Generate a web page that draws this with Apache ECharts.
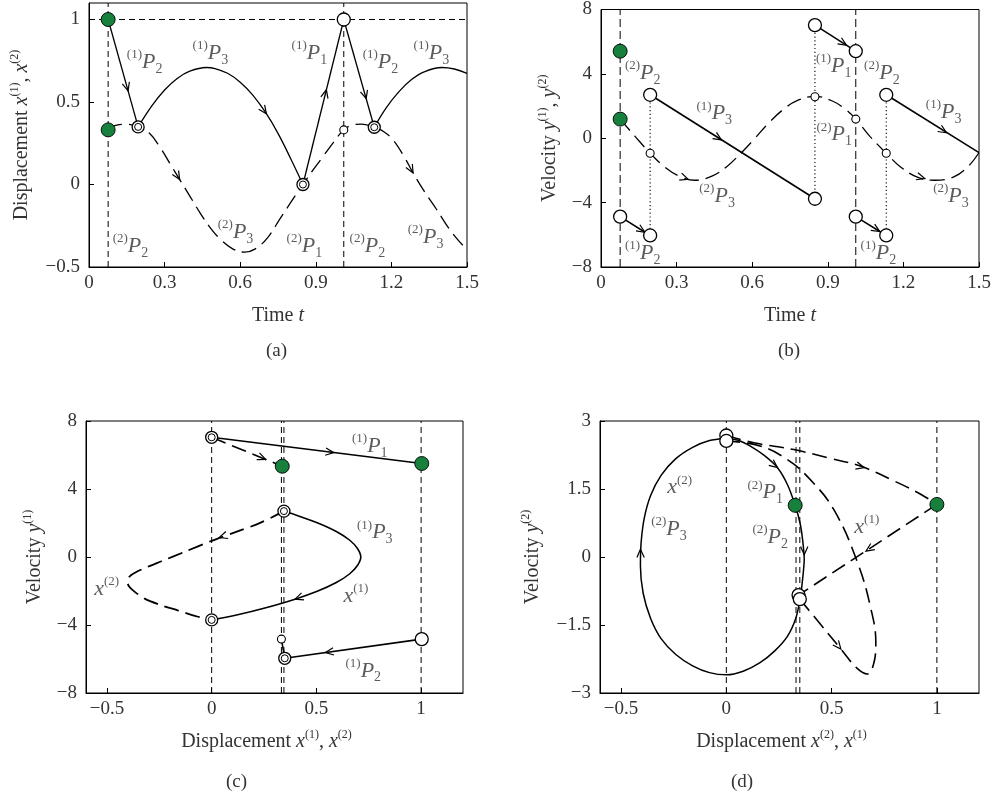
<!DOCTYPE html>
<html>
<head>
<meta charset="utf-8">
<script src="https://cdn.jsdelivr.net/npm/echarts@6/dist/echarts.min.js"></script>
<style>
  html, body { margin: 0; padding: 0; background: #fff; }
  #main { width: 995px; height: 802px; }
</style>
</head>
<body>
<div id="main"></div>
<script>
// ---------- Panel (a): displacement vs time ----------
const impactTimes = [0.076, 1.011];
const wallLevel = [1];
const x1DropA = [[0.076, 1], [0.195, 0.349]];
const x1FlightA = [[0.195, 0.349], [0.25, 0.478], [0.30, 0.573], [0.35, 0.643], [0.40, 0.687],
  [0.466, 0.709], [0.50, 0.703], [0.55, 0.674], [0.60, 0.620], [0.65, 0.542], [0.70, 0.438],
  [0.75, 0.310], [0.80, 0.158], [0.849, 0]];
const x1RiseA = [[0.849, 0], [1.011, 1]];
const x1DropB = [[1.011, 1], [1.132, 0.347]];
const x1FlightB = [[1.132, 0.347], [1.18, 0.466], [1.23, 0.563], [1.28, 0.636], [1.33, 0.683],
  [1.40, 0.709], [1.45, 0.70], [1.5, 0.673]];
const x2Path = [[0.076, 0.331], [0.11, 0.36], [0.15, 0.365], [0.195, 0.349], [0.24, 0.31], [0.28, 0.23],
  [0.32, 0.13], [0.36, 0.03], [0.40, -0.07], [0.44, -0.17], [0.48, -0.26], [0.52, -0.33], [0.57, -0.39],
  [0.618, -0.41], [0.66, -0.39], [0.71, -0.32], [0.757, -0.21], [0.80, -0.11], [0.849, 0], [0.89, 0.09],
  [0.929, 0.17], [0.968, 0.251], [1.011, 0.331], [1.045, 0.36], [1.081, 0.366], [1.132, 0.347],
  [1.17, 0.32], [1.206, 0.271], [1.25, 0.17], [1.286, 0.07], [1.33, -0.04], [1.379, -0.15],
  [1.43, -0.27], [1.49, -0.38], [1.5, -0.39]];
const greenA = [[0.076, 1], [0.076, 0.331]];
const openA = [[1.011, 1]];
const smallA = [[1.011, 0.331]];
const doubleA = [[0.195, 0.349], [0.849, 0], [1.132, 0.347]];
const arrowsA = [[0.076, 1, 0.155, 0.568], [0.66, 0.523, 0.704, 0.429], [0.849, 0, 0.942, 0.574],
  [1.011, 1, 1.10, 0.52], [0.32, 0.13, 0.36, 0.03], [1.25, 0.17, 1.286, 0.07]];
const labelsA = [[0.150, 0.74, 'P', 1, 2], [0.411, 0.795, 'P', 1, 3], [0.804, 0.795, 'P', 1, 1],
  [1.086, 0.74, 'P', 1, 2], [1.288, 0.795, 'P', 1, 3], [0.511, -0.289, 'P', 2, 3],
  [0.094, -0.373, 'P', 2, 2], [0.784, -0.373, 'P', 2, 1], [1.034, -0.373, 'P', 2, 2],
  [1.265, -0.319, 'P', 2, 3]];

// ---------- Panel (b): velocity vs time ----------
const y1Seg = [
  [[0.076, -4.87], [0.195, -6.04]],
  [[0.195, 2.70], [0.849, -3.76]],
  [[0.849, 7.03], [1.011, 5.41]],
  [[1.011, -4.87], [1.132, -6.04]],
  [[1.132, 2.70], [1.5, -0.89]]
];
const jumpLinks = [[[0.195, 2.70], [0.195, -6.04]], [[0.849, 7.03], [0.849, -3.76]], [[1.132, 2.70], [1.132, -6.04]]];
const y2Path = [[0.076, 1.19], [0.135, 0.12], [0.195, -0.93], [0.25, -1.75], [0.31, -2.35], [0.373, -2.61],
  [0.44, -2.35], [0.50, -1.75], [0.56, -0.85], [0.611, 0.0], [0.66, 0.85], [0.72, 1.75], [0.78, 2.35],
  [0.849, 2.6], [0.92, 2.3], [0.97, 1.8], [1.011, 1.19], [1.067, 0.12], [1.132, -0.93], [1.19, -1.8],
  [1.26, -2.45], [1.325, -2.61], [1.40, -2.4], [1.46, -1.7], [1.5, -0.89]];
const greenB = [[0.076, 5.41], [0.076, 1.19]];
const openB = [[0.076, -4.87], [0.195, -6.04], [0.195, 2.70], [0.849, -3.76], [0.849, 7.03],
  [1.011, 5.41], [1.011, -4.87], [1.132, -6.04], [1.132, 2.70]];
const smallB = [[0.195, -0.93], [0.849, 2.58], [1.011, 1.19], [1.132, -0.93]];
const arrowsB = [[0.076, -4.87, 0.174, -5.84], [0.195, 2.70, 0.478, -0.10], [0.849, 7.03, 0.974, 5.78],
  [1.011, -4.87, 1.106, -5.80], [1.132, 2.70, 1.371, 0.34], [0.30, -2.30, 0.346, -2.55],
  [1.24, -2.30, 1.285, -2.50]];
const labelsB = [[0.095, 4.06, 'P', 2, 2], [0.379, 1.53, 'P', 1, 3], [0.39, -3.62, 'P', 2, 3],
  [0.095, -7.15, 'P', 1, 2], [0.853, 4.46, 'P', 1, 1], [0.855, 0.22, 'P', 2, 1],
  [1.044, 4.06, 'P', 2, 2], [1.289, 1.64, 'P', 1, 3], [1.318, -3.62, 'P', 2, 3],
  [1.03, -7.15, 'P', 1, 2]];

// ---------- Panel (c): phase plane y(1) ----------
const levelsC = [0, 0.333, 0.345, 1];
const cX1P1 = [[0, 7.04], [1.003, 5.5]];
const cX2P1 = [[0, 7.04], [0.337, 5.34]];
const cX1P3 = [[0.345, 2.70], [0.418, 2.4], [0.507, 2.0], [0.595, 1.5], [0.658, 1.0], [0.696, 0.5],
  [0.712, 0], [0.696, -0.5], [0.658, -1.0], [0.595, -1.5], [0.507, -2.0], [0.398, -2.48],
  [0.254, -3.0], [0.124, -3.4], [0, -3.70]];
const cX2P3 = [[0.345, 2.70], [0.234, 2.02], [0.107, 1.43], [0, 0.95], [-0.13, 0.3], [-0.24, -0.25],
  [-0.31, -0.6], [-0.36, -0.88], [-0.39, -1.12], [-0.403, -1.41], [-0.395, -1.72], [-0.37, -2.02],
  [-0.32, -2.45], [-0.25, -2.8], [-0.16, -3.15], [-0.07, -3.5], [0, -3.70]];
const cX1P2 = [[1.003, -4.83], [0.349, -5.96]];
const cX2P2 = [[0.333, -4.83], [0.349, -5.96]];
const greenC = [[0.337, 5.34], [1.003, 5.5]];
const doubleC = [[0, 7.04], [0.345, 2.70], [0, -3.70], [0.349, -5.96]];
const openC = [[1.003, -4.83]];
const smallC = [[0.333, -4.83]];
const arrowsC = [[0, 7.04, 0.258, 5.74], [0, 7.04, 0.583, 6.14], [0.107, 1.43, 0.036, 1.14],
  [0.507, -2.0, 0.398, -2.48], [1.003, -4.83, 0.543, -5.62]];
const labelsC = [[0.67, 6.51, 'P', 1, 1], [0.694, 1.43, 'P', 1, 3], [0.629, -2.29, 'x', 1],
  [-0.561, -1.9, 'x', 2], [0.639, -6.69, 'P', 1, 2]];

// ---------- Panel (d): phase plane y(2) ----------
const levelsD = [0, 0.331, 0.349, 1];
const dX2Orbit = [[0, 2.62], [0.06, 2.57], [0.116, 2.44], [0.18, 2.24], [0.243, 1.97], [0.29, 1.6],
  [0.327, 1.14], [0.35, 0.75], [0.362, 0.39], [0.37, -0.05], [0.362, -0.5], [0.35, -0.93],
  [0.33, -1.35], [0.29, -1.75], [0.23, -2.07], [0.16, -2.33], [0.08, -2.52], [0, -2.6],
  [-0.08, -2.55], [-0.16, -2.4], [-0.24, -2.15], [-0.31, -1.8], [-0.36, -1.35], [-0.395, -0.8],
  [-0.408, -0.2], [-0.405, 0.3], [-0.39, 0.85], [-0.36, 1.35], [-0.31, 1.8], [-0.24, 2.17],
  [-0.16, 2.42], [-0.08, 2.57], [0, 2.62]];
const dX1P1 = [[0, 2.68], [0.13, 2.52], [0.32, 2.37], [0.48, 2.19], [0.64, 2.0], [0.80, 1.67],
  [0.925, 1.38], [1.0, 1.16]];
const dX1P2 = [[1.0, 1.16], [0.343, -0.84]];
const dX1P3 = [[0.349, -0.93], [0.45, -1.5], [0.544, -2.03], [0.62, -2.45], [0.67, -2.58],
  [0.70, -2.35], [0.71, -1.89], [0.687, -1.15], [0.623, -0.12], [0.51, 1.05], [0.39, 1.75],
  [0.29, 2.15], [0.16, 2.45], [0, 2.56]];
const greenD = [[0.327, 1.14], [1.0, 1.16]];
const openD = [[0, 2.68], [0, 2.56], [0.343, -0.84], [0.349, -0.93]];
const arrowsD = [[-0.405, -0.4, -0.408, 0.17], [0.116, 2.44, 0.243, 1.97], [0.37, 0.5, 0.37, 0.05],
  [0.48, 2.19, 0.655, 1.97], [1.0, 1.16, 0.663, 0.13], [0.349, -0.93, 0.544, -2.03]];
const labelsD = [[-0.281, 1.53, 'x', 2], [-0.357, 0.61, 'P', 2, 3], [0.1, 1.42, 'P', 2, 1],
  [0.124, 0.43, 'P', 2, 2], [0.608, 0.65, 'x', 1]];

// ---------- axis ticks ----------
const ticksTime = [0, 0.3, 0.6, 0.9, 1.2, 1.5];
const ticksDisp = [-0.5, 0, 0.5, 1];
const ticksVel = [-8, -4, 0, 4, 8];
const ticksVel2 = [-3, -1.5, 0, 1.5, 3];
const ticksPhaseX = [-0.5, 0, 0.5, 1];

// ---------- styling ----------
const FONT = '"Liberation Serif", "DejaVu Serif", serif';
const INK = '#000';
const TXT = '#333';
const GREEN = '#17803d';
const LONG_DASH = [15, 7];
const REF_DASH = [6, 4];

const richMath = {
  s: { fontSize: 13, fontFamily: FONT, color: TXT, lineHeight: 12, verticalAlign: 'top' },
  p: { fontSize: 22, fontFamily: FONT, fontStyle: 'italic', color: TXT, lineHeight: 28 },
  b: { fontSize: 14, fontFamily: FONT, color: TXT, lineHeight: 12, verticalAlign: 'bottom' }
};
const richTitle = {
  t: { fontSize: 20, fontFamily: FONT, color: TXT, lineHeight: 26 },
  i: { fontSize: 20, fontFamily: FONT, fontStyle: 'italic', color: TXT, lineHeight: 26 },
  s: { fontSize: 12, fontFamily: FONT, color: TXT, lineHeight: 12, verticalAlign: 'top' }
};

function mathText(row) {
  if (row[2] === 'P') return '{s|(' + row[3] + ')}{p|P}{b|' + row[4] + '}';
  return '{p|x}{s|(' + row[3] + ')}';
}
const minus = v => String(v).replace('-', '\u2212');

function xAxisCfg(g, min, max, ticks, name, gap, shift) {
  return {
    gridIndex: g, type: 'value', min: min, max: max,
    axisLine: { onZero: false, lineStyle: { color: INK, width: 1 } },
    axisTick: { inside: true, length: 5, lineStyle: { color: INK }, customValues: ticks },
    axisLabel: { customValues: ticks, formatter: minus, color: TXT, fontFamily: FONT, fontSize: 19, margin: 7 },
    splitLine: { show: false },
    name: name, nameLocation: 'middle', nameGap: gap,
    nameTextStyle: { rich: richTitle, padding: [0, shift || 0, 0, 0] }
  };
}
function yAxisCfg(g, min, max, ticks, name, gap) {
  return {
    gridIndex: g, type: 'value', min: min, max: max,
    axisLine: { onZero: false, lineStyle: { color: INK, width: 1 } },
    axisTick: { inside: true, length: 5, lineStyle: { color: INK }, customValues: ticks },
    axisLabel: { customValues: ticks, formatter: minus, color: TXT, fontFamily: FONT, fontSize: 19, margin: 9 },
    splitLine: { show: false },
    name: name, nameLocation: 'middle', nameGap: gap, nameRotate: 90,
    nameTextStyle: { rich: richTitle }
  };
}

const series = [];
function curve(g, data, opt) {
  opt = opt || {};
  series.push({
    type: 'line', xAxisIndex: g, yAxisIndex: g, data: data, symbol: 'none', showSymbol: false,
    smooth: opt.smooth ? (opt.smooth === true ? 0.4 : opt.smooth) : false, silent: true, z: opt.z || 3,
    lineStyle: { color: INK, width: opt.w || 1.3, type: opt.dash || 'solid' }
  });
}
function vRefs(g, values, yRange, dash) {
  values.forEach(v => curve(g, [[v, yRange[0]], [v, yRange[1]]], { dash: dash || REF_DASH, w: 1, z: 1 }));
}
function hRefs(g, values, xRange) {
  values.forEach(v => curve(g, [[xRange[0], v], [xRange[1], v]], { dash: REF_DASH, w: 1, z: 1 }));
}
function dots(g, data, kind) {
  const styles = {
    green: { size: 14, fill: GREEN, bw: 0.9 },
    open: { size: 13, fill: '#fff', bw: 1.3 },
    small: { size: 8, fill: '#fff', bw: 1.1 },
    outer: { size: 12, fill: '#fff', bw: 1.3 },
    inner: { size: 7, fill: '#fff', bw: 1.0 }
  };
  const s = styles[kind];
  series.push({
    type: 'scatter', xAxisIndex: g, yAxisIndex: g, data: data, symbol: 'circle', symbolSize: s.size,
    silent: true, z: kind === 'inner' ? 7 : 6,
    itemStyle: { color: s.fill, borderColor: INK, borderWidth: s.bw, opacity: 1 }
  });
}
function doubles(g, data) { dots(g, data, 'outer'); dots(g, data, 'inner'); }
function arrows(g, data) {
  series.push({
    type: 'custom', xAxisIndex: g, yAxisIndex: g, data: data, silent: true, z: 5,
    encode: { x: 2, y: 3 },
    renderItem: function (params, api) {
      const a = api.coord([api.value(0), api.value(1)]);
      const b = api.coord([api.value(2), api.value(3)]);
      const ang = Math.atan2(b[1] - a[1], b[0] - a[0]);
      const L = 9, w = 0.42;
      const p1 = [b[0] - L * Math.cos(ang - w), b[1] - L * Math.sin(ang - w)];
      const p2 = [b[0] - L * Math.cos(ang + w), b[1] - L * Math.sin(ang + w)];
      return { type: 'polyline', shape: { points: [p1, b, p2] }, style: { stroke: INK, fill: null, lineWidth: 1.2 } };
    }
  });
}
function labels(g, data) {
  series.push({
    type: 'scatter', xAxisIndex: g, yAxisIndex: g, symbolSize: 1, silent: true, z: 8,
    data: data.map(r => ({ value: [r[0], r[1]], row: r })),
    itemStyle: { color: 'rgba(0,0,0,0)' },
    label: {
      show: true, position: 'inside', align: 'left', verticalAlign: 'middle',
      formatter: p => mathText(p.data.row), rich: richMath
    }
  });
}

// panel (a)
vRefs(0, impactTimes, [-0.5, 1.1]);
hRefs(0, wallLevel, [0, 1.5]);
curve(0, x2Path, { smooth: true, dash: LONG_DASH, w: 1.3 });
curve(0, x1DropA); curve(0, x1FlightA, { smooth: true }); curve(0, x1RiseA);
curve(0, x1DropB); curve(0, x1FlightB, { smooth: true });
arrows(0, arrowsA);
dots(0, greenA, 'green'); dots(0, openA, 'open'); dots(0, smallA, 'small'); doubles(0, doubleA);
labels(0, labelsA);

// panel (b)
vRefs(1, impactTimes, [-8, 8], [8, 4]);
jumpLinks.forEach(seg => curve(1, seg, { dash: [1.2, 2.6], w: 1.1, z: 1 }));
curve(1, y2Path, { smooth: true, dash: LONG_DASH, w: 1.3 });
y1Seg.forEach(seg => curve(1, seg, { w: 1.6 }));
arrows(1, arrowsB);
dots(1, greenB, 'green'); dots(1, openB, 'open'); dots(1, smallB, 'small');
labels(1, labelsB);

// panel (c)
vRefs(2, levelsC, [-8, 8]);
curve(2, cX1P1, { w: 1.6 }); curve(2, cX2P1, { dash: LONG_DASH, w: 1.6 });
curve(2, cX1P3, { smooth: true, w: 1.6 }); curve(2, cX2P3, { smooth: 0.3, dash: LONG_DASH, w: 1.8 });
curve(2, cX1P2, { w: 1.6 }); curve(2, cX2P2, { dash: LONG_DASH, w: 1.6 });
arrows(2, arrowsC);
dots(2, greenC, 'green'); dots(2, openC, 'open'); dots(2, smallC, 'small'); doubles(2, doubleC);
labels(2, labelsC);

// panel (d)
vRefs(3, levelsD, [-3, 3]);
curve(3, dX2Orbit, { smooth: 0.25, w: 1.5 });
curve(3, dX1P1, { smooth: true, dash: LONG_DASH, w: 1.6 });
curve(3, dX1P2, { dash: LONG_DASH, w: 1.6 });
curve(3, dX1P3, { smooth: true, dash: LONG_DASH, w: 1.6 });
arrows(3, arrowsD);
dots(3, greenD, 'green'); dots(3, openD, 'open');
labels(3, labelsD);

const chart = echarts.init(document.getElementById('main'), null, { renderer: 'canvas' });
chart.setOption({
  animation: false,
  backgroundColor: '#fff',
  grid: [
    { left: 89, top: 3, width: 378, height: 264, show: true, borderColor: INK, borderWidth: 1, backgroundColor: 'transparent' },
    { left: 601, top: 3, width: 378, height: 264, show: true, borderColor: INK, borderWidth: 1, backgroundColor: 'transparent' },
    { left: 86, top: 421, width: 377, height: 272, show: true, borderColor: INK, borderWidth: 1, backgroundColor: 'transparent' },
    { left: 600, top: 421, width: 379, height: 272, show: true, borderColor: INK, borderWidth: 1, backgroundColor: 'transparent' }
  ],
  xAxis: [
    xAxisCfg(0, 0, 1.5, ticksTime, '{t|Time }{i|t}', 36),
    xAxisCfg(1, 0, 1.5, ticksTime, '{t|Time }{i|t}', 36),
    xAxisCfg(2, -0.6, 1.2, ticksPhaseX, '{t|Displacement }{i|x}{s|(1)}{t|, }{i|x}{s|(2)}', 36, 16),
    xAxisCfg(3, -0.6, 1.2, ticksPhaseX, '{t|Displacement }{i|x}{s|(2)}{t|, }{i|x}{s|(1)}', 36, 16)
  ],
  yAxis: [
    yAxisCfg(0, -0.5, 1.1, ticksDisp, '{t|Displacement }{i|x}{s|(1)}{t|, }{i|x}{s|(2)}', 54),
    yAxisCfg(1, -8, 8, ticksVel, '{t|Velocity }{i|y}{s|(1)}{t|, }{i|y}{s|(2)}', 38),
    yAxisCfg(2, -8, 8, ticksVel, '{t|Velocity }{i|y}{s|(1)}', 38),
    yAxisCfg(3, -3, 3, ticksVel2, '{t|Velocity }{i|y}{s|(2)}', 54)
  ],
  graphic: [
    { type: 'text', left: 266, top: 342, style: { text: '(a)', font: '19px ' + FONT, fill: TXT } },
    { type: 'text', left: 778, top: 342, style: { text: '(b)', font: '19px ' + FONT, fill: TXT } },
    { type: 'text', left: 226, top: 773, style: { text: '(c)', font: '19px ' + FONT, fill: TXT } },
    { type: 'text', left: 731, top: 773, style: { text: '(d)', font: '19px ' + FONT, fill: TXT } }
  ],
  series: series
});
</script>
</body>
</html>
